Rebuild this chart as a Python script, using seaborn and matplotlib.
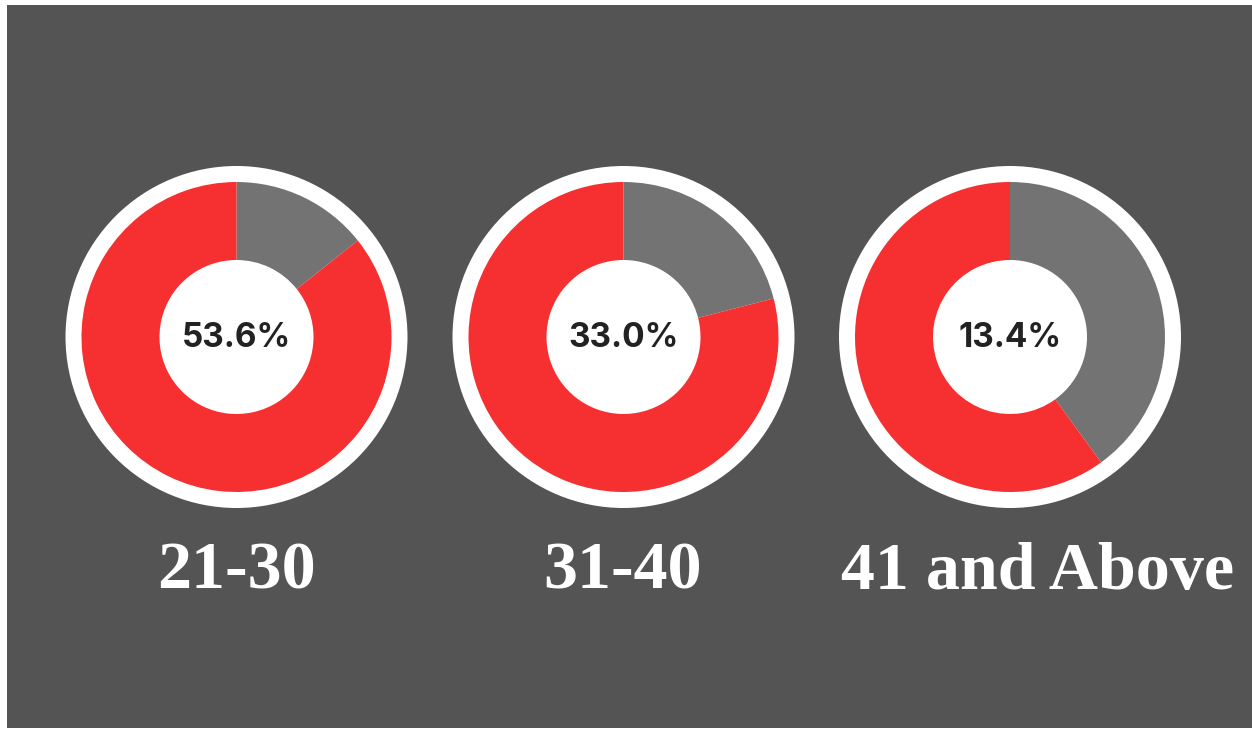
import matplotlib
matplotlib.use("Agg")
import matplotlib.pyplot as plt
from matplotlib.patches import Rectangle, Circle
import seaborn as sns

# Age groups, the share shown in each donut's centre, and the two ring segments
age_groups = ["21-30", "31-40", "41 and Above"]
centre_labels = ["53.6%", "33.0%", "13.4%"]
grey_share = [14.3, 21.0, 40.0]
red_share = [85.7, 79.0, 60.0]

RED = "#F62F30"
GREY = "#737373"
PANEL = "#545454"

sns.set_theme(style="white")
plt.rcParams["font.family"] = ["DejaVu Sans"]

W, H = 1252, 729
fig = plt.figure(figsize=(W / 100, H / 100), dpi=100, facecolor="white")
ax = fig.add_axes([0, 0, 1, 1])
ax.set_xlim(0, W)
ax.set_ylim(0, H)
ax.set_aspect("equal")
ax.axis("off")

# dark panel
ax.add_patch(Rectangle((7, 1), W - 7, H - 6, facecolor=PANEL, edgecolor="none", zorder=0))

centres_x = [236.5, 623.5, 1010]
centre_y = H - 337
title_x = [236.5, 623, 1038]

for cx, grey, red, lab, grp, tx in zip(centres_x, grey_share, red_share,
                                       centre_labels, age_groups, title_x):
    # white disc behind the ring
    ax.add_patch(Circle((cx, centre_y), 171, facecolor="white", edgecolor="none", zorder=1))
    ax.pie([grey, red], colors=[GREY, RED], startangle=90, counterclock=False,
           center=(cx, centre_y), radius=155, frame=True,
           wedgeprops=dict(width=155 - 77, edgecolor="none", zorder=2, linewidth=0))
    ax.text(cx, centre_y - 1, lab, ha="center", va="center", fontsize=24,
            fontweight="bold", color="#222222", family=["Inter", "DejaVu Sans"], zorder=3)
    ax.text(tx, H - 572, grp, ha="center", va="center", fontsize=49,
            fontweight="bold", color="white", family=["Liberation Serif", "DejaVu Serif"],
            zorder=3)

ax.set_xlim(0, W)
ax.set_ylim(0, H)
ax.axis("off")
fig.savefig("out.png", dpi=100, facecolor="white")
